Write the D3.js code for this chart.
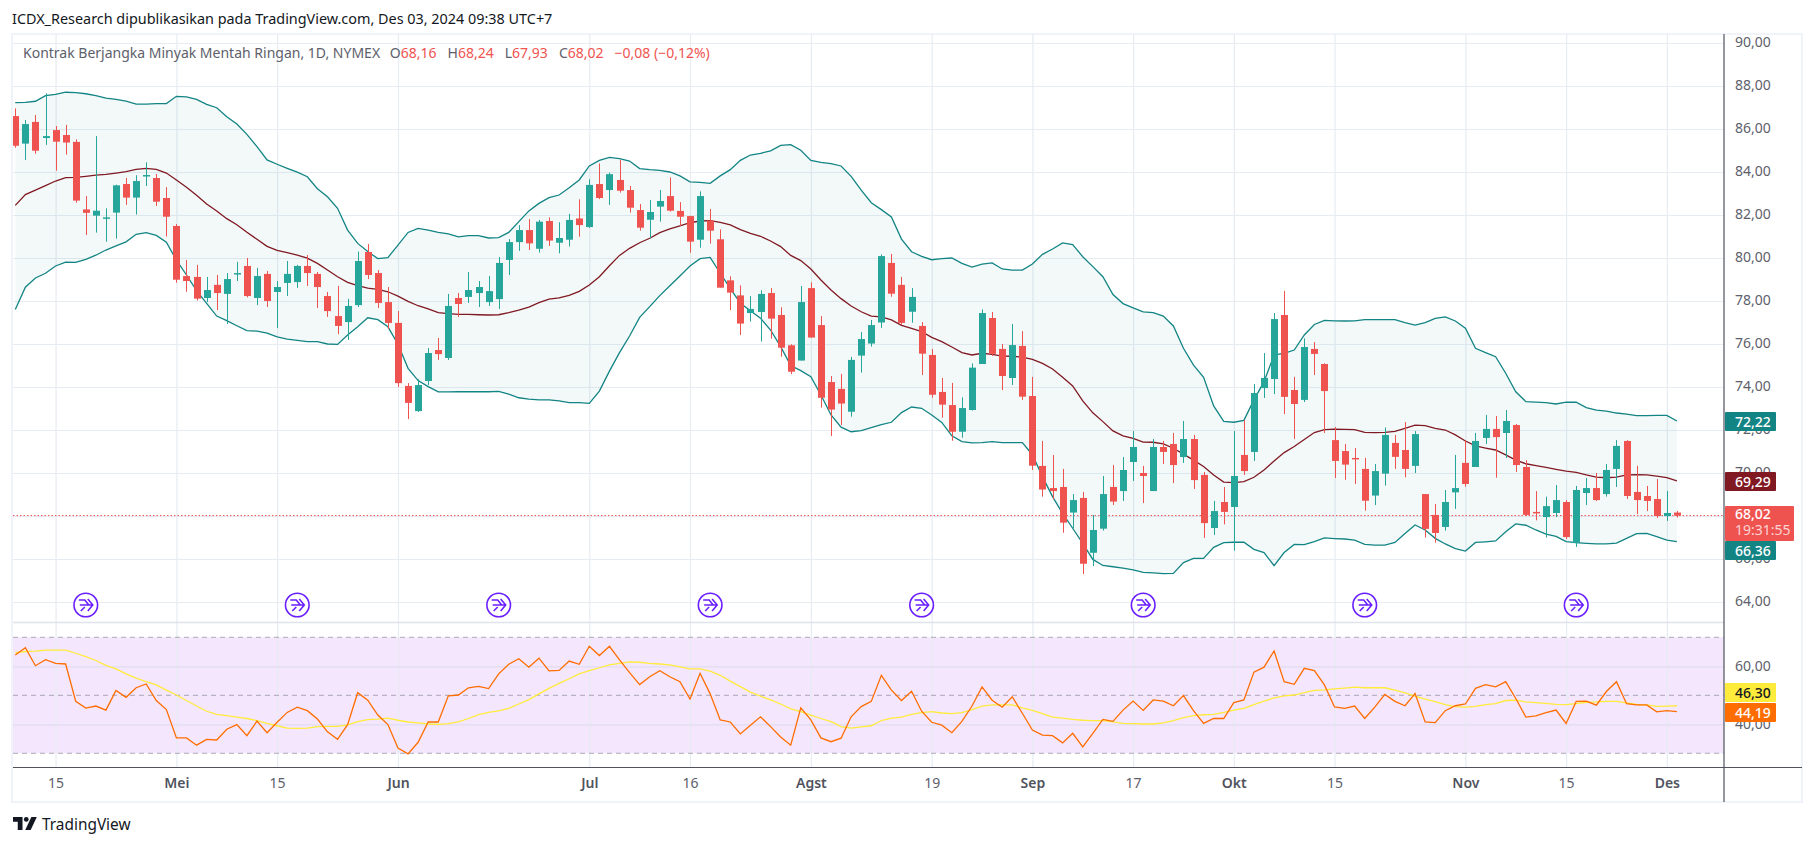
<!DOCTYPE html>
<html>
<head>
<meta charset="utf-8">
<title>Kontrak Berjangka Minyak Mentah Ringan</title>
<script src="https://cdn.jsdelivr.net/npm/d3@7"></script>
<style>
  html, body { margin: 0; padding: 0; background: #fff; }
  svg { display: block; }
  text { font-family: "Noto Sans", sans-serif; }
</style>
</head>
<body>
<div id="chart"></div>
<script>
var opens = [
  86.6,85.32,86.33,85.58,85.95,85.72,85.4,82.26,81.97,81.85,82.11,83.44,82.81,83.82,83.72,82.79,81.49,79.16,79.12,78.14,
  78.75,78.33,79.27,79.63,78.14,79.26,78.42,78.84,78.88,79.63,79.26,78.23,77.3,77.02,77.81,80.28,79.3,77.95,76.98,74.05,
  72.88,74.28,75.72,75.35,78.14,78.19,78.37,77.95,78.09,79.91,80.74,81.3,80.43,81.72,80.71,80.85,81.84,81.44,83.44,83.16,
  83.63,83.16,82.23,81.78,82.39,82.88,82.19,81.95,80.85,81.74,80.87,78.96,78.26,77.44,77.49,78.37,77.35,75.94,75.23,78.6,
  76.88,74.23,73.91,72.85,75.46,76.02,77.0,79.77,78.75,77.5,76.84,75.49,73.77,73.16,71.92,72.93,75.07,77.21,75.77,74.42,
  75.91,73.58,70.33,69.3,69.35,68.16,68.84,66.29,67.41,69.35,69.16,70.51,70.0,69.16,71.21,71.35,70.74,71.58,69.91,67.44,
  68.65,68.42,70.84,70.98,73.95,74.37,77.35,73.86,73.4,75.77,75.07,71.53,71.02,70.7,70.19,68.95,69.97,71.4,71.07,70.33,
  69.02,68.05,67.49,69.1,70.47,70.28,71.63,72.05,71.86,72.23,70.28,68.19,67.95,68.14,68.65,66.74,69.07,69.3,69.02,70.19,
  71.49,69.12,68.93,68.79,68.0,68.16
];
var highs = [
  86.96,86.42,86.65,87.66,86.14,86.19,85.52,82.88,85.67,82.31,83.41,83.72,83.85,84.45,83.91,83.3,81.58,79.91,79.68,79.12,
  79.21,79.3,79.82,80.0,79.54,79.4,78.93,79.86,79.68,80.14,79.35,78.42,78.7,78.1,80.3,80.65,79.44,78.65,77.53,74.18,
  74.36,75.81,76.28,78.33,78.37,79.35,78.93,79.16,80.05,80.88,81.53,81.81,81.77,81.89,81.66,82.05,82.73,83.66,84.4,83.97,
  84.56,83.35,82.51,82.7,83.16,83.75,82.6,81.96,83.1,82.28,81.33,79.15,78.73,78.23,78.5,78.6,77.71,75.99,78.7,78.87,
  77.3,74.51,74.61,75.4,76.56,77.12,80.17,80.19,79.12,78.6,77.02,75.77,74.42,74.19,73.52,75.1,77.61,77.49,76.0,76.93,
  76.6,74.47,71.49,70.84,70.19,69.02,69.12,68.05,69.86,70.37,70.74,71.95,70.33,71.58,71.49,71.86,72.42,71.77,70.05,68.7,
  69.35,71.95,72.46,74.14,75.58,77.44,78.47,74.47,76.26,76.09,75.1,72.14,71.35,71.16,70.7,70.42,72.12,71.77,72.37,71.95,
  69.02,68.56,69.21,70.84,71.53,71.86,72.7,72.65,72.93,72.28,70.6,69.16,68.9,69.44,68.74,69.4,69.77,70.0,70.42,71.53,
  71.53,70.33,69.4,69.72,69.16,68.24
];
var lows = [
  85.13,84.56,84.85,85.26,84.06,84.81,82.57,81.07,81.18,80.76,80.9,82.47,82.02,83.35,82.42,81.0,78.85,78.43,78.02,77.95,
  77.58,76.93,78.93,78.17,77.81,77.72,76.75,78.23,78.61,78.7,77.67,77.26,76.46,76.19,77.72,79.02,77.67,76.7,74.0,72.51,
  72.84,74.09,75.26,75.26,77.25,77.91,77.72,77.77,77.63,79.21,80.33,80.37,80.25,80.56,80.22,80.53,80.99,81.4,82.74,82.47,
  83.04,82.11,81.27,80.92,81.69,82.16,81.49,80.25,80.48,80.67,78.62,77.58,76.42,77.04,76.11,76.25,75.41,74.6,75.23,76.3,
  73.04,71.72,72.23,72.62,74.67,75.88,76.75,78.2,76.88,76.99,74.56,73.5,72.57,71.5,71.64,72.9,75.07,75.44,73.86,74.09,
  73.4,70.14,68.9,68.79,67.22,67.43,65.3,65.67,67.32,68.51,68.7,69.63,68.6,69.16,70.42,69.53,70.47,69.26,66.98,67.12,
  67.61,66.39,69.91,70.56,73.49,73.67,72.74,71.58,73.3,74.56,71.86,69.77,69.68,69.49,68.25,68.51,69.41,70.19,69.8,70.0,
  67.0,66.76,67.32,68.33,69.36,70.28,71.35,69.78,70.7,70.05,68.0,67.8,67.0,67.95,66.93,66.56,68.51,68.7,68.9,69.35,
  68.79,68.09,68.23,67.91,67.77,67.93
];
var closes = [
  85.22,86.23,84.99,85.67,85.41,85.37,82.67,82.1,82.2,81.89,83.38,82.81,83.58,83.86,82.62,81.92,78.99,78.93,78.11,78.51,
  78.37,79.02,79.3,78.23,79.16,78.0,78.65,79.26,79.63,79.3,78.65,77.53,76.84,77.77,79.86,79.21,77.91,76.98,74.18,73.26,
  74.09,75.58,75.53,77.77,77.86,78.51,78.65,78.46,79.77,80.74,81.3,80.68,81.69,80.81,80.93,81.77,81.53,83.4,82.79,83.9,
  83.13,82.34,81.41,82.14,82.65,82.2,81.92,80.76,82.88,81.27,78.62,78.39,76.95,77.63,78.33,77.18,75.83,74.71,77.95,76.3,
  73.5,72.95,73.23,75.26,76.23,76.88,80.09,78.34,76.98,78.19,75.55,73.64,73.18,71.92,73.02,74.9,77.44,75.54,74.51,75.95,
  73.55,70.34,69.23,69.16,67.69,68.74,65.78,67.35,69.02,68.67,70.14,71.21,69.86,71.21,70.98,70.37,71.58,69.67,67.67,68.23,
  68.19,69.86,70.09,73.72,74.42,77.16,73.54,73.21,75.86,75.54,73.81,70.56,70.39,70.65,68.71,70.09,71.77,70.75,70.19,71.81,
  67.4,67.21,68.65,69.3,69.49,71.49,72.05,71.67,72.42,70.37,68.05,68.14,68.46,68.74,67.02,69.21,69.3,68.74,70.14,71.26,
  68.93,68.74,68.7,68.0,68.14,68.02
];
var bbUpper = [
  87.23,87.24,87.29,87.55,87.61,87.71,87.69,87.64,87.55,87.44,87.38,87.3,87.16,87.16,87.18,87.18,87.52,87.49,87.38,87.15,
  86.99,86.57,86.23,85.75,85.18,84.56,84.36,84.17,83.99,83.78,83.22,82.85,82.31,81.3,80.68,80.3,79.97,80.02,80.6,81.19,
  81.38,81.3,81.19,81.12,80.98,81.04,81.04,80.93,80.95,81.19,81.69,82.19,82.54,82.81,82.93,83.27,83.63,84.28,84.54,84.68,
  84.62,84.51,84.16,84.11,84.08,84.0,83.82,83.54,83.52,83.47,83.82,84.11,84.54,84.79,84.87,84.98,85.24,85.27,85.01,84.54,
  84.45,84.39,84.28,83.8,83.16,82.57,82.25,81.91,80.88,80.29,80.08,79.92,79.97,80.0,79.75,79.58,79.72,79.77,79.49,79.44,
  79.44,79.72,80.17,80.42,80.7,80.62,80.06,79.6,79.13,78.3,77.88,77.68,77.49,77.46,77.3,76.84,75.8,75.02,74.45,73.12,
  72.4,72.36,72.45,73.4,74.25,75.49,75.57,75.72,76.42,76.91,77.1,77.08,77.07,77.08,77.13,77.13,77.13,77.13,76.99,76.88,
  76.99,77.19,77.26,77.07,76.73,75.8,75.6,75.41,74.64,73.78,73.32,73.3,73.27,73.21,73.3,73.29,73.04,72.92,72.88,72.79,
  72.74,72.67,72.67,72.68,72.68,72.42
];
var bbMiddle = [
  82.45,82.95,83.16,83.37,83.58,83.74,83.75,83.8,83.85,83.89,83.95,84.02,84.12,84.17,84.12,83.95,83.63,83.29,82.92,82.51,
  82.19,81.83,81.55,81.2,80.87,80.54,80.36,80.25,80.13,79.99,79.75,79.44,79.13,78.87,78.71,78.6,78.54,78.43,78.23,77.98,
  77.78,77.63,77.46,77.41,77.38,77.38,77.36,77.35,77.36,77.46,77.58,77.72,77.92,78.09,78.15,78.26,78.45,78.74,79.13,79.64,
  80.12,80.45,80.71,80.92,81.18,81.35,81.49,81.64,81.72,81.74,81.66,81.54,81.32,81.15,81.01,80.79,80.53,80.12,79.88,79.49,
  78.98,78.51,78.11,77.77,77.5,77.3,77.26,77.12,76.87,76.73,76.58,76.31,76.11,75.86,75.6,75.49,75.57,75.52,75.44,75.43,
  75.39,75.28,75.1,74.84,74.45,74.05,73.35,72.8,72.39,71.96,71.73,71.61,71.44,71.43,71.35,71.15,70.88,70.6,70.3,69.91,
  69.58,69.55,69.6,69.8,70.14,70.56,70.95,71.23,71.56,71.88,72.02,72.04,72.03,72.02,71.89,71.88,71.89,71.94,72.08,72.23,
  72.2,72.08,72.0,71.77,71.49,71.26,71.16,71.07,70.84,70.6,70.43,70.34,70.26,70.17,70.09,70.03,69.91,69.81,69.78,69.81,
  69.91,69.92,69.91,69.85,69.78,69.63
];
var bbLower = [
  77.6,78.64,79.07,79.29,79.63,79.81,79.8,79.94,80.13,80.37,80.56,80.75,81.1,81.18,81.05,80.73,79.9,79.21,78.48,77.89,
  77.3,77.09,76.85,76.62,76.6,76.51,76.33,76.23,76.17,76.11,76.11,76.0,75.98,76.42,76.8,77.22,77.13,76.8,75.99,74.87,
  74.3,74.02,73.77,73.77,73.78,73.78,73.78,73.78,73.8,73.67,73.5,73.44,73.4,73.4,73.35,73.27,73.27,73.24,73.81,74.74,
  75.6,76.37,77.24,77.74,78.25,78.71,79.16,79.63,79.97,80.03,79.29,78.59,77.89,77.55,77.2,76.65,75.88,75.0,74.76,74.48,
  73.63,72.7,72.13,71.92,71.97,72.11,72.25,72.36,72.81,73.07,73.01,72.7,72.35,71.73,71.46,71.4,71.41,71.46,71.41,71.41,
  71.41,70.85,69.83,68.9,68.12,67.43,66.73,65.98,65.7,65.64,65.58,65.49,65.38,65.35,65.32,65.33,65.83,66.03,66.03,66.54,
  66.76,66.78,66.78,66.45,66.3,65.69,66.3,66.68,66.67,66.81,66.98,66.95,66.93,66.88,66.68,66.65,66.65,66.77,67.19,67.58,
  67.35,66.96,66.7,66.48,66.37,66.77,66.8,66.84,67.27,67.63,67.57,67.35,67.16,67.05,66.81,66.76,66.73,66.7,66.7,66.74,
  66.96,67.18,67.19,67.04,66.88,66.81
];
var rsiValues = [
  63.9,66.4,60.2,62.3,61.0,60.8,47.9,45.6,46.3,44.9,51.7,49.3,52.6,53.9,48.2,45.1,35.3,35.3,32.8,34.8,
  34.6,38.3,39.9,36.1,41.1,37.1,40.7,44.1,45.9,44.7,41.8,37.4,34.8,39.9,50.9,48.3,43.2,39.9,31.8,29.8,
  33.8,40.8,40.8,49.8,50.1,52.6,53.1,52.3,57.4,60.7,62.6,59.7,62.8,58.4,58.6,61.8,60.7,66.9,63.7,66.9,
  62.2,57.8,53.7,56.4,58.5,56.4,54.7,48.7,57.6,50.5,41.5,40.8,36.7,39.7,42.6,39.2,35.6,32.8,45.7,41.5,
  35.3,34.0,35.2,42.6,46.1,47.9,56.9,51.8,48.2,51.4,44.5,40.7,39.7,37.1,41.0,46.3,52.9,48.3,45.9,49.5,
  43.8,38.0,36.3,36.1,33.6,36.9,32.2,36.9,41.7,41.0,44.9,48.0,44.8,48.4,48.0,46.4,49.9,44.7,40.3,42.0,
  42.0,47.5,48.4,58.0,59.7,65.3,54.7,53.8,59.3,58.5,53.6,46.0,45.5,46.3,42.0,45.9,50.3,47.9,46.4,50.6,
  40.8,40.6,44.7,46.4,47.0,52.4,53.7,52.9,54.7,48.9,42.5,42.9,44.0,44.9,40.3,47.9,48.0,46.6,51.3,54.7,
  47.1,46.7,46.7,44.3,44.7,44.4
];
var rsiMaValues = [
  64.7,65.1,65.2,65.6,65.6,65.6,64.5,63.3,62.0,60.3,59.1,57.4,55.9,54.7,53.6,51.8,50.1,48.2,46.3,44.5,
  43.4,43.0,42.5,42.0,41.3,40.3,39.5,38.7,38.6,38.7,39.2,39.3,39.3,39.8,40.9,41.6,41.8,42.1,41.4,40.8,
  40.5,40.1,40.0,40.2,40.8,42.0,43.3,44.1,44.6,45.5,47.0,48.5,50.5,52.4,54.1,55.7,57.4,58.5,59.5,60.5,
  61.0,61.5,61.4,61.0,60.8,60.5,59.8,59.1,59.1,58.3,56.9,54.9,53.0,51.1,49.7,48.4,47.0,45.3,44.4,43.2,
  42.0,40.9,39.2,38.7,39.1,39.5,41.3,42.1,42.5,43.4,44.0,44.4,43.9,43.7,44.0,45.1,46.3,46.7,46.7,46.7,
  45.7,44.8,43.7,42.5,42.1,41.7,41.4,41.3,41.3,40.8,40.3,40.2,40.1,40.1,40.5,41.3,42.3,43.0,43.3,43.4,
  44.1,44.9,45.5,46.8,48.0,49.1,49.8,50.1,50.9,51.7,51.9,52.2,52.5,52.8,52.6,52.6,52.6,51.8,50.8,49.7,
  48.7,47.8,46.8,46.1,45.9,46.2,46.8,47.1,48.2,48.3,47.7,47.5,47.2,46.9,46.8,47.1,47.6,47.7,47.9,47.9,
  47.4,46.9,46.7,46.2,46.3,46.4
];

var timeTickBars = [4, 16, 26, 38, 57, 67, 79, 91, 101, 111, 121, 131, 144, 154, 164];
var timeTickLabels = ["15", "Mei", "15", "Jun", "Jul", "16", "Agst", "19", "Sep", "17", "Okt", "15", "Nov", "15", "Des"];
var monthLabels = ["Mei", "Jun", "Jul", "Agst", "Sep", "Okt", "Nov", "Des"];
var priceTicks = [90, 88, 86, 84, 82, 80, 78, 76, 74, 72, 70, 68, 66, 64];
var rsiTicks = [60, 40];
var rsiBands = [70, 50, 30];
var eventBars = [7, 28, 48, 69, 90, 112, 134, 155];
var lastPrice = 68.02;

var width = 1814, height = 846;
var paneLeft = 13, paneRight = 1724, outerRight = 1802;
var paneTop = 34, paneSplit = 622.5, timeAxisY = 767.5, paneBottom = 802;
var upColor = "#26a69a", downColor = "#ef5350", gridColor = "#e6ecf2";
var axisText = "#5d606b";

var comma = function(v) { return d3.format(".2f")(v).replace(".", ","); };

var xScale = d3.scaleLinear().domain([0, 165]).range([15.3, 1676.9]);
var yPrice = d3.scaleLinear().domain([90, 64]).range([43, 602]);
var yRsi = d3.scaleLinear().domain([70, 30]).range([637.3, 753.3]);

var svg = d3.select("#chart")
  .append("svg")
  .attr("width", width)
  .attr("height", height);

svg.append("rect").attr("width", width).attr("height", height).attr("fill", "#fff");

var defs = svg.append("defs");
defs.append("clipPath").attr("id", "priceClip").append("rect")
  .attr("x", paneLeft).attr("y", paneTop).attr("width", paneRight - paneLeft).attr("height", paneSplit - paneTop);
defs.append("clipPath").attr("id", "rsiClip").append("rect")
  .attr("x", paneLeft).attr("y", paneSplit).attr("width", paneRight - paneLeft).attr("height", timeAxisY - paneSplit);

// frame
svg.append("rect")
  .attr("x", 12).attr("y", 34)
  .attr("width", outerRight - 12).attr("height", paneBottom - 34)
  .attr("fill", "none")
  .attr("stroke", "#f0f3fa")
  .attr("stroke-width", 2);

// rsi background goes under the grid lines
svg.append("rect")
  .attr("x", paneLeft).attr("width", paneRight - paneLeft)
  .attr("y", yRsi(70)).attr("height", yRsi(30) - yRsi(70))
  .attr("fill", "#f4e6fd");

// grid
var gridX = svg.append("g").attr("transform", "translate(0," + timeAxisY + ")")
  .call(d3.axisBottom(xScale).tickValues(timeTickBars).tickSize(-(timeAxisY - paneTop)).tickFormat(""));
gridX.select(".domain").remove();
gridX.selectAll("line").attr("stroke", gridColor).attr("stroke-width", 1.2);

var gridY = svg.append("g").attr("transform", "translate(" + paneRight + ",0)")
  .call(d3.axisLeft(yPrice).tickValues(priceTicks).tickSize(paneRight - paneLeft).tickFormat(""));
gridY.select(".domain").remove();
gridY.selectAll("line").attr("stroke", gridColor).attr("stroke-width", 1.2);

var gridRsi = svg.append("g").attr("transform", "translate(" + paneRight + ",0)")
  .call(d3.axisLeft(yRsi).tickValues(rsiTicks).tickSize(paneRight - paneLeft).tickFormat(""));
gridRsi.select(".domain").remove();
gridRsi.selectAll("line").attr("stroke", "#dfdcf2").attr("stroke-width", 1.2);

// pane split
svg.append("line")
  .attr("x1", paneLeft).attr("x2", paneRight)
  .attr("y1", paneSplit).attr("y2", paneSplit)
  .attr("stroke", "#e0e3eb").attr("stroke-width", 1.5);

// price pane
var pricePane = svg.append("g").attr("clip-path", "url(#priceClip)");
var bars = d3.range(opens.length);

var band = d3.area()
  .x(function(i) { return xScale(i); })
  .y0(function(i) { return yPrice(bbLower[i]); })
  .y1(function(i) { return yPrice(bbUpper[i]); });

pricePane.append("path")
  .attr("d", band(bars))
  .attr("fill", "#138484")
  .attr("fill-opacity", 0.05);

var priceLine = function(values) {
  return d3.line()
    .x(function(i) { return xScale(i); })
    .y(function(i) { return yPrice(values[i]); })(bars);
};

var candleColor = function(i) { return closes[i] >= opens[i] ? upColor : downColor; };

pricePane.append("line")
  .attr("x1", paneLeft).attr("x2", paneRight)
  .attr("y1", yPrice(lastPrice)).attr("y2", yPrice(lastPrice))
  .attr("stroke", downColor)
  .attr("stroke-width", 1)
  .attr("stroke-dasharray", "1.5 2");

[bbUpper, bbLower].forEach(function(values) {
  pricePane.append("path")
    .attr("d", priceLine(values))
    .attr("fill", "none")
    .attr("stroke", "#138484")
    .attr("stroke-width", 1.3);
});
pricePane.append("path")
  .attr("d", priceLine(bbMiddle))
  .attr("fill", "none")
  .attr("stroke", "#801922")
  .attr("stroke-width", 1.3);

var candles = pricePane.selectAll("g.candle")
  .data(bars)
  .enter()
  .append("g").attr("class", "candle");

candles.append("line")
  .attr("x1", function(i) { return Math.round(xScale(i)) + 0.5; })
  .attr("x2", function(i) { return Math.round(xScale(i)) + 0.5; })
  .attr("y1", function(i) { return yPrice(highs[i]); })
  .attr("y2", function(i) { return yPrice(lows[i]); })
  .attr("stroke", candleColor)
  .attr("stroke-width", 1);

candles.append("rect")
  .attr("x", function(i) { return Math.round(xScale(i)) - 3; })
  .attr("width", 7)
  .attr("y", function(i) { return yPrice(Math.max(opens[i], closes[i])); })
  .attr("height", function(i) { return Math.max(1.5, Math.abs(yPrice(opens[i]) - yPrice(closes[i]))); })
  .attr("fill", candleColor);

// rsi pane
var rsiPane = svg.append("g").attr("clip-path", "url(#rsiClip)");

rsiPane.selectAll("line.band")
  .data(rsiBands)
  .enter()
  .append("line").attr("class", "band")
  .attr("x1", paneLeft).attr("x2", paneRight)
  .attr("y1", yRsi).attr("y2", yRsi)
  .attr("stroke", "#787b86")
  .attr("stroke-opacity", 0.6)
  .attr("stroke-width", 1)
  .attr("stroke-dasharray", "5 4");

var rsiLine = function(values) {
  return d3.line()
    .x(function(i) { return xScale(i); })
    .y(function(i) { return yRsi(values[i]); })(bars);
};

rsiPane.append("path")
  .attr("d", rsiLine(rsiMaValues))
  .attr("fill", "none")
  .attr("stroke", "#ffeb3b")
  .attr("stroke-width", 1.3);
rsiPane.append("path")
  .attr("d", rsiLine(rsiValues))
  .attr("fill", "none")
  .attr("stroke", "#ff6d00")
  .attr("stroke-width", 1.3);

// event markers
var events = svg.selectAll("g.event")
  .data(eventBars)
  .enter()
  .append("g").attr("class", "event")
  .attr("transform", function(i) { return "translate(" + xScale(i) + ",605)"; });

events.append("circle")
  .attr("r", 11.8)
  .attr("fill", "#fff")
  .attr("stroke", "#6a1fff")
  .attr("stroke-width", 1.6);
events.append("path")
  .attr("d", "M-7,-5 L-1,-5 L3,0 L-6,0 M3,0 L7,0 M2,-6 L7,0 L2,6 M-5,6 L-1,2")
  .attr("fill", "none")
  .attr("stroke", "#6a1fff")
  .attr("stroke-width", 1.6);

// axes lines
svg.append("line")
  .attr("x1", paneRight).attr("x2", paneRight)
  .attr("y1", paneTop).attr("y2", paneBottom)
  .attr("stroke", "#50535e").attr("stroke-width", 1.2);
svg.append("line")
  .attr("x1", paneLeft).attr("x2", outerRight)
  .attr("y1", timeAxisY).attr("y2", timeAxisY)
  .attr("stroke", "#50535e").attr("stroke-width", 1.2);

// axis labels
var priceAxis = svg.append("g").attr("transform", "translate(" + paneRight + ",0)")
  .call(d3.axisRight(yPrice).tickValues(priceTicks).tickSize(0).tickPadding(11).tickFormat(comma));
priceAxis.select(".domain").remove();
priceAxis.selectAll("text")
  .style("font-family", "'Noto Sans', sans-serif")
  .attr("dy", "0.28em")
  .attr("font-size", 14).attr("fill", axisText);

var rsiAxis = svg.append("g").attr("transform", "translate(" + paneRight + ",0)")
  .call(d3.axisRight(yRsi).tickValues(rsiTicks).tickSize(0).tickPadding(11).tickFormat(comma));
rsiAxis.select(".domain").remove();
rsiAxis.selectAll("text")
  .style("font-family", "'Noto Sans', sans-serif")
  .attr("dy", "0.28em")
  .attr("font-size", 14).attr("fill", axisText);

var timeAxis = svg.append("g").attr("transform", "translate(0," + timeAxisY + ")")
  .call(d3.axisBottom(xScale).tickValues(timeTickBars).tickSize(0).tickPadding(11)
    .tickFormat(function(d, i) { return timeTickLabels[i]; }));
timeAxis.select(".domain").remove();
timeAxis.selectAll("text")
  .style("font-family", "'Noto Sans', sans-serif")
  .attr("font-size", 14)
  .attr("fill", function(d, i) { return monthLabels.indexOf(timeTickLabels[i]) >= 0 ? "#50535e" : axisText; })
  .attr("font-weight", function(d, i) { return monthLabels.indexOf(timeTickLabels[i]) >= 0 ? 600 : 400; });

// last value tags on the axis
var tags = [
  {text: "72,22", y: 412, h: 19, w: 51, fill: "#138484", color: "#fff"},
  {text: "69,29", y: 472, h: 19, w: 51, fill: "#801922", color: "#fff"},
  {text: "66,36", y: 541, h: 19, w: 51, fill: "#138484", color: "#fff"},
  {text: "46,30", y: 683, h: 19, w: 51, fill: "#ffeb3b", color: "#131722"},
  {text: "44,19", y: 703, h: 19, w: 51, fill: "#ff6d00", color: "#fff"}
];
var tagGroups = svg.selectAll("g.tag")
  .data(tags)
  .enter()
  .append("g").attr("class", "tag");
tagGroups.append("rect")
  .attr("x", paneRight + 1).attr("y", function(d) { return d.y; })
  .attr("width", function(d) { return d.w; }).attr("height", function(d) { return d.h; })
  .attr("rx", 1)
  .attr("fill", function(d) { return d.fill; });
tagGroups.append("text")
  .attr("x", paneRight + 11).attr("y", function(d) { return d.y + 14.5; })
  .attr("font-size", 14)
  .attr("font-weight", 500)
  .attr("fill", function(d) { return d.color; })
  .text(function(d) { return d.text; });

svg.append("rect")
  .attr("x", paneRight + 1).attr("y", 506)
  .attr("width", 69).attr("height", 35)
  .attr("rx", 1)
  .attr("fill", downColor);
svg.append("text")
  .attr("x", paneRight + 11).attr("y", 519)
  .attr("font-size", 14).attr("font-weight", 500).attr("fill", "#fff")
  .text(comma(lastPrice));
svg.append("text")
  .attr("x", paneRight + 11).attr("y", 535)
  .attr("font-size", 14).attr("fill", "#fff").attr("fill-opacity", 0.75)
  .text("19:31:55");

// header and legend
svg.append("text")
  .attr("x", 12).attr("y", 24)
  .attr("font-size", 14.4)
  .attr("fill", "#131722")
  .text("ICDX_Research dipublikasikan pada TradingView.com, Des 03, 2024 09:38 UTC+7");

var legend = svg.append("text")
  .attr("x", 23).attr("y", 58)
  .attr("font-size", 14)
  .attr("fill", "#5d606b");
legend.append("tspan").text("Kontrak Berjangka Minyak Mentah Ringan, 1D, NYMEX");
[["O", "68,16"], ["H", "68,24"], ["L", "67,93"], ["C", "68,02"]].forEach(function(p, i) {
  legend.append("tspan").attr("dx", i == 0 ? 10 : 11).text(p[0]);
  legend.append("tspan").attr("fill", downColor).text(p[1]);
});
legend.append("tspan").attr("dx", 11).attr("fill", downColor).text("\u22120,08 (\u22120,12%)");

// logo
var logo = svg.append("g").attr("transform", "translate(13,817) scale(0.68)").attr("fill", "#131722");
logo.append("path").attr("d", "M14 0H0v7h7v12h7V0z");
logo.append("circle").attr("cx", 19.5).attr("cy", 3.5).attr("r", 3.5);
logo.append("path").attr("d", "M27 0h8l-9 19h-8z");
svg.append("text")
  .attr("x", 42).attr("y", 830)
  .attr("font-size", 15.4)
  .attr("fill", "#131722")
  .text("TradingView");
</script>
</body>
</html>
